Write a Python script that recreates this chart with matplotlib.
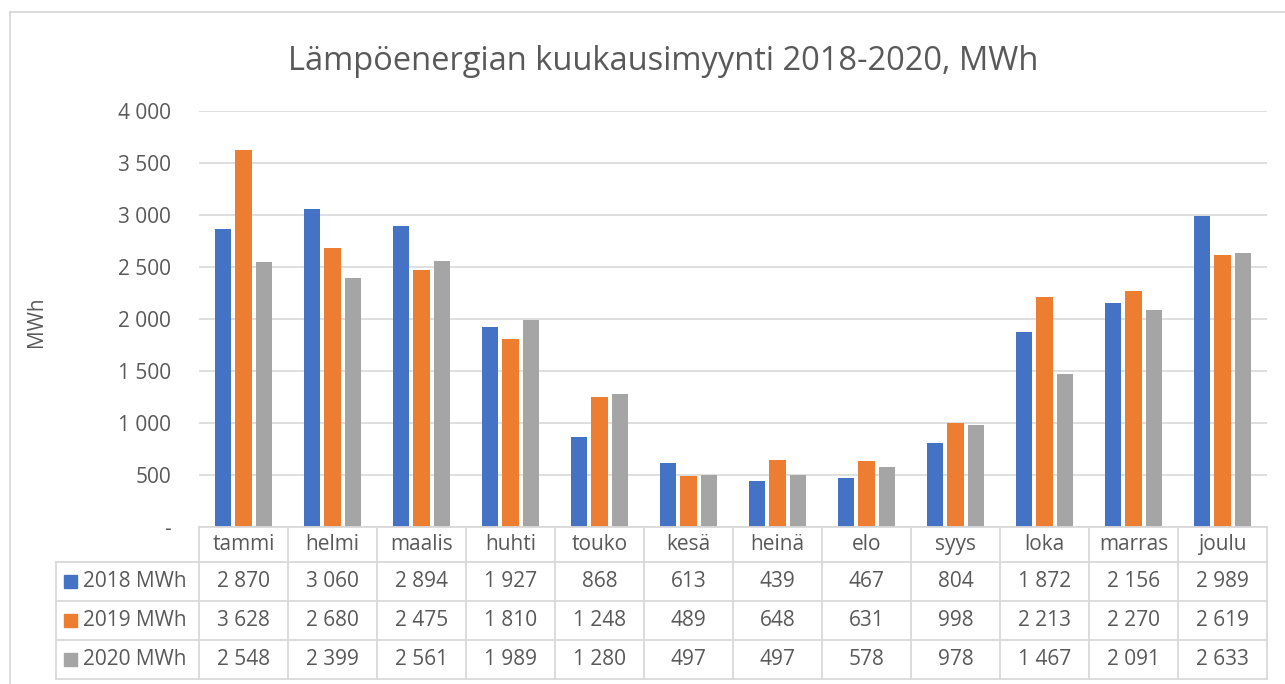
import numpy as np
import matplotlib
matplotlib.use('Agg')
import matplotlib.pyplot as plt
from matplotlib.lines import Line2D
from matplotlib.patches import Rectangle

# kuukaudet ja myynti (MWh)
months = ["tammi", "helmi", "maalis", "huhti", "touko", "kesä",
          "heinä", "elo", "syys", "loka", "marras", "joulu"]
sales_2018 = [2870, 3060, 2894, 1927, 868, 613, 439, 467, 804, 1872, 2156, 2989]
sales_2019 = [3628, 2680, 2475, 1810, 1248, 489, 648, 631, 998, 2213, 2270, 2619]
sales_2020 = [2548, 2399, 2561, 1989, 1280, 497, 497, 578, 978, 1467, 2091, 2633]
series_names = ["2018 MWh", "2019 MWh", "2020 MWh"]
colors = ["#4472C4", "#ED7D31", "#A5A5A5"]
yticks = [0, 500, 1000, 1500, 2000, 2500, 3000, 3500, 4000]

plt.rcParams['font.family'] = ['Open Sans', 'DejaVu Sans']
txt = "#595959"
grid = "#D9D9D9"
fs = 15

W, H = 1285, 684
fig = plt.figure(figsize=(W / 100, H / 100), dpi=100)

# plot area in pixels
x0, x1, ytop, ybot = 199, 1267, 111, 527
ax = fig.add_axes([x0 / W, 1 - ybot / H, (x1 - x0) / W, (ybot - ytop) / H])

index = np.arange(len(months))
all_series = [sales_2018, sales_2019, sales_2020]
bw = 0.18
step = 0.225
for i, vals in enumerate(all_series):
    ax.bar(index + (i - 1) * step, vals, width=bw, color=colors[i], zorder=3)

ax.set_xlim(-0.5, len(months) - 0.5)
ax.set_ylim(0, 4000)
ax.set_yticks(yticks)
ax.set_yticklabels(["-" if v == 0 else f"{v:,}".replace(",", " ") for v in yticks],
                   fontsize=fs, color=txt)
ax.set_xticks([])
ax.tick_params(axis='y', length=0, pad=20)
ax.grid(axis='y', color=grid, linewidth=1.2, zorder=0)
for s in ax.spines.values():
    s.set_visible(False)


def fx(px):
    return px / W


def fy(py):
    return 1 - py / H


def hline(xa, xb, y):
    fig.add_artist(Line2D([fx(xa), fx(xb)], [fy(y), fy(y)], color=grid, lw=1.3))


def vline(x, ya, yb):
    fig.add_artist(Line2D([fx(x), fx(x)], [fy(ya), fy(yb)], color=grid, lw=1.3))


# chart border
hline(10, W, 12)
vline(10, 12, H)

# title & y label
fig.text(fx(663), fy(62), "Lämpöenergian kuukausimyynti 2018-2020, MWh",
         ha='center', va='center', fontsize=23.5, color=txt)
fig.text(fx(36), fy(322), "MWh", rotation=90, ha='center', va='center',
         fontsize=fs, color=txt)

# data table
rows = [527, 562, 601, 640, 679]
label_left = 56
colw = (x1 - x0) / len(months)
hline(x0, x1, rows[0])
for r in rows[1:]:
    hline(label_left, x1, r)
vline(label_left, rows[1], rows[-1])
for j in range(len(months) + 1):
    vline(x0 + j * colw, rows[0], rows[-1])

for j, m in enumerate(months):
    cx = x0 + (j + 0.5) * colw
    fig.text(fx(cx), fy((rows[0] + rows[1]) / 2), m, ha='center', va='center',
             fontsize=fs, color=txt)
    for i, vals in enumerate(all_series):
        cy = (rows[i + 1] + rows[i + 2]) / 2
        fig.text(fx(cx), fy(cy), f"{vals[j]:,}".replace(",", " "), ha='center',
                 va='center', fontsize=fs, color=txt)

for i, name in enumerate(series_names):
    cy = (rows[i + 1] + rows[i + 2]) / 2
    fig.add_artist(Rectangle((fx(64), fy(cy + 6.5)), 13 / W, 13 / H,
                             color=colors[i], transform=fig.transFigure))
    fig.text(fx(83), fy(cy), name, ha='left', va='center', fontsize=fs, color=txt)

fig.savefig("out.png", dpi=100)
